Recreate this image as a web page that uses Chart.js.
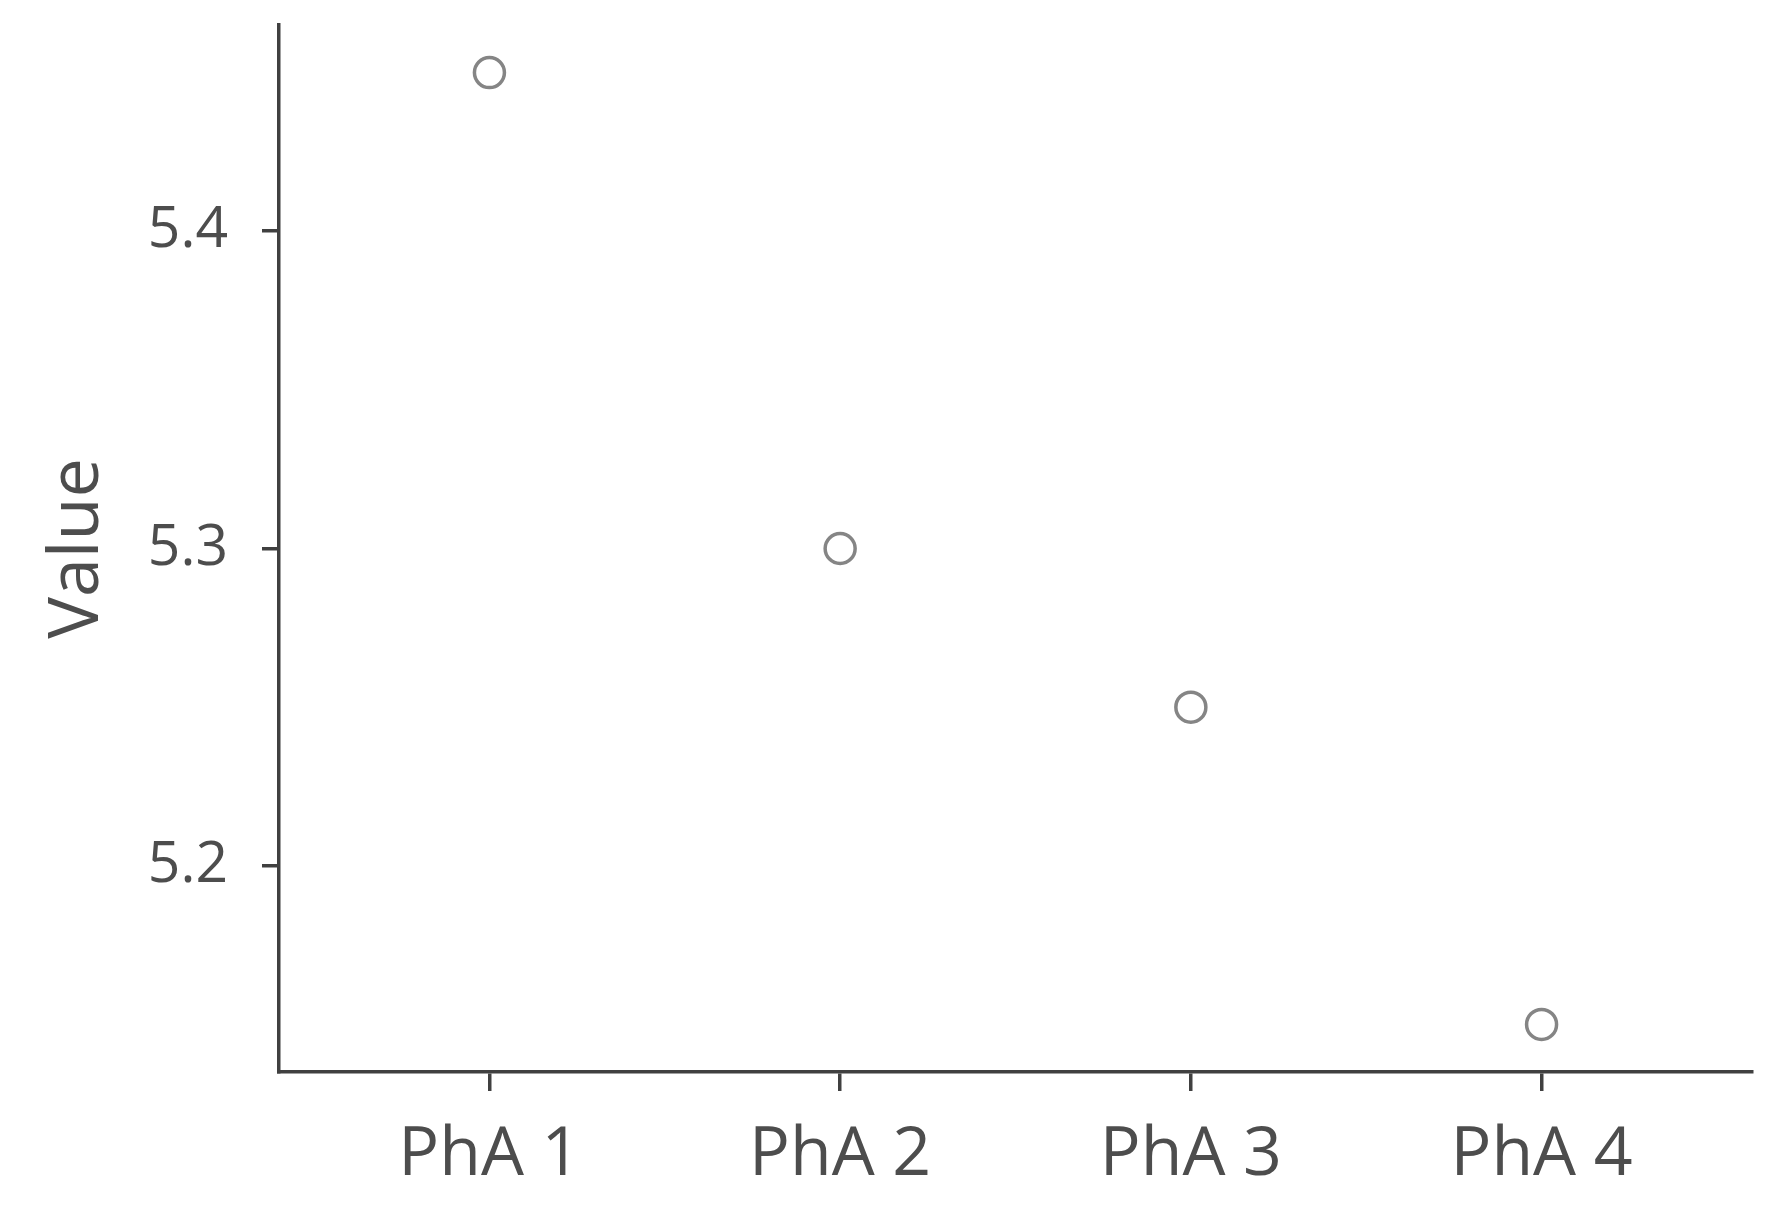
<!DOCTYPE html>
<html>
<head>
<meta charset="utf-8">
<script src="https://cdn.jsdelivr.net/npm/chart.js@4/dist/chart.umd.min.js"></script>
<style>
  html, body { margin: 0; padding: 0; background: #fff; }
  #wrap { width: 1774px; height: 1227px; }
</style>
</head>
<body>
<div id="wrap"><canvas id="myChart" width="1774" height="1227"></canvas></div>
<script>
// data
const categories = ['PhA 1', 'PhA 2', 'PhA 3', 'PhA 4'];
const values = [5.45, 5.30, 5.25, 5.15];
const yTicks = [5.2, 5.3, 5.4];
const yTitle = 'Value';

const axisColor = '#404040';
const textColor = '#4d4d4d';

const points = values.map((v, i) => ({ x: i + 1, y: v }));

const ctx = document.getElementById('myChart');
const config = {
  type: 'scatter',
  data: {
    datasets: [{
      data: points,
      pointStyle: 'circle',
      pointRadius: 15,
      pointBorderWidth: 3.5,
      borderColor: '#858585',
      backgroundColor: 'rgba(0,0,0,0)'
    }]
  },
  options: {
    responsive: false,
    animation: false,
    layout: { padding: { top: 25, right: 22, left: 0, bottom: 0 } },
    plugins: { legend: { display: false }, tooltip: { enabled: false } },
    scales: {
      x: {
        type: 'linear',
        min: 0.4,
        max: 4.6,
        afterBuildTicks: (s) => { s.ticks = categories.map((c, i) => ({ value: i + 1 })); },
        afterFit: (s) => { s.height = 155; s.paddingLeft = 0; s.paddingRight = 0; },
        ticks: {
          callback: (v) => categories[v - 1],
          color: textColor,
          font: { family: 'Open Sans', size: 68 },
          padding: 24,
          maxRotation: 0
        },
        grid: { drawOnChartArea: false, drawTicks: true, tickLength: 19, color: axisColor, lineWidth: 3.5 },
        border: { display: true, color: axisColor, width: 3.5 }
      },
      y: {
        min: 5.135,
        max: 5.465,
        afterBuildTicks: (s) => { s.ticks = yTicks.map(v => ({ value: v })); },
        afterFit: (s) => { s.width = 279; s.paddingTop = 0; s.paddingBottom = 0; },
        ticks: {
          callback: (v) => v.toFixed(1),
          color: textColor,
          font: { family: 'Open Sans', size: 57 },
          padding: 34
        },
        title: {
          display: true,
          text: yTitle,
          color: textColor,
          font: { family: 'Open Sans', size: 70 },
          padding: { top: 36, bottom: 0 }
        },
        grid: { drawOnChartArea: false, drawTicks: true, tickLength: 17, color: axisColor, lineWidth: 3.5 },
        border: { display: true, color: axisColor, width: 3.5 }
      }
    }
  }
};

var plot = new Chart(ctx, config);
</script>
</body>
</html>
